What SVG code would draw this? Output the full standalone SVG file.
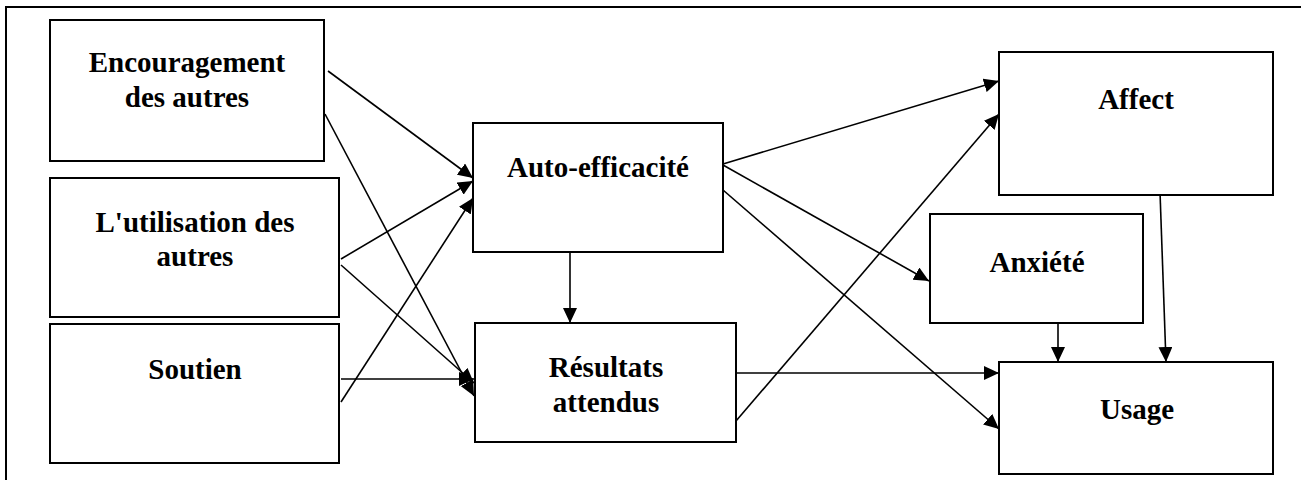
<svg xmlns="http://www.w3.org/2000/svg" width="1301" height="480" viewBox="0 0 1301 480">
  <style>
    .box { fill: #ffffff; stroke: #000000; stroke-width: 2; }
    .label { font-family: "Liberation Serif", "Times New Roman", serif; font-weight: bold; font-size: 29px; fill: #000000; text-anchor: middle; }
    .link { stroke: #000000; stroke-width: 1.6; fill: none; marker-end: url(#head); }
    .frame { stroke: #000000; stroke-width: 2; fill: none; }
  </style>
  <defs>
    <marker id="head" markerUnits="userSpaceOnUse" markerWidth="16" markerHeight="14" refX="15" refY="7" orient="auto">
      <path d="M0,0 L15,7 L0,14 z" fill="#000000"/>
    </marker>
  </defs>

  <rect width="1301" height="480" fill="#ffffff"/>

  <!-- frame -->
  <path class="frame" d="M6,480 L6,7 L1301,7"/>

  <!-- connectors -->
  <g id="connectors">
    <line class="link" x1="328" y1="71" x2="473" y2="178"/>
    <line class="link" x1="325" y1="114" x2="474" y2="396"/>
    <line class="link" x1="341" y1="259" x2="473" y2="181"/>
    <line class="link" x1="341" y1="265" x2="474" y2="383"/>
    <line class="link" x1="341" y1="379" x2="474" y2="379"/>
    <line class="link" x1="341" y1="402" x2="473" y2="198"/>
    <line class="link" x1="570" y1="252" x2="570" y2="323"/>
    <line class="link" x1="723" y1="164" x2="999" y2="81"/>
    <line class="link" x1="723" y1="165" x2="929" y2="281"/>
    <line class="link" x1="723" y1="190" x2="999" y2="429"/>
    <line class="link" x1="736" y1="421" x2="999" y2="114"/>
    <line class="link" x1="736" y1="373" x2="999" y2="373"/>
    <line class="link" x1="1058" y1="322" x2="1058" y2="362"/>
    <line class="link" x1="1160" y1="192" x2="1166" y2="362"/>
  </g>

  <g id="encouragement">
    <rect class="box" x="50" y="20" width="274" height="141"/>
    <text class="label" x="187" y="72">Encouragement</text>
    <text class="label" x="187" y="107">des autres</text>
  </g>
  <g id="utilisation">
    <rect class="box" x="50" y="178" width="289" height="139"/>
    <text class="label" x="195" y="232">L'utilisation des</text>
    <text class="label" x="195" y="266">autres</text>
  </g>
  <g id="soutien">
    <rect class="box" x="50" y="324" width="289" height="139"/>
    <text class="label" x="195" y="379">Soutien</text>
  </g>
  <g id="auto-efficacite">
    <rect class="box" x="473" y="123" width="250" height="129"/>
    <text class="label" x="598" y="177">Auto-efficacité</text>
  </g>
  <g id="resultats">
    <rect class="box" x="475" y="323" width="261" height="119"/>
    <text class="label" x="606" y="377">Résultats</text>
    <text class="label" x="606" y="412">attendus</text>
  </g>
  <g id="affect">
    <rect class="box" x="999" y="52" width="274" height="143"/>
    <text class="label" x="1136" y="109">Affect</text>
  </g>
  <g id="anxiete">
    <rect class="box" x="930" y="214" width="213" height="109"/>
    <text class="label" x="1037" y="272">Anxiété</text>
  </g>
  <g id="usage">
    <rect class="box" x="999" y="362" width="274" height="112"/>
    <text class="label" x="1137" y="419">Usage</text>
  </g>
</svg>
